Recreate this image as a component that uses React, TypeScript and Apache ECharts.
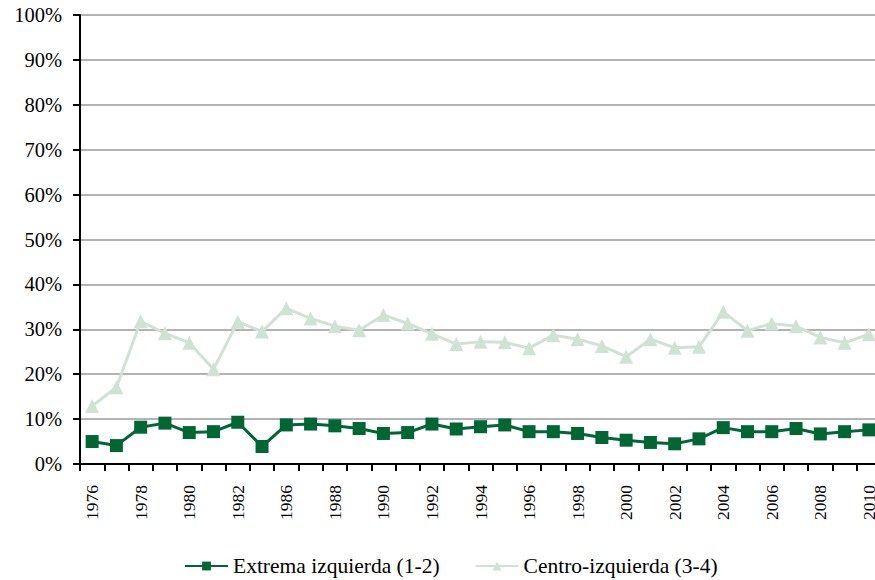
import React, { useEffect, useRef } from "react";
import * as echarts from "echarts";

const years = [
  "1976", "1977", "1978", "1979", "1980", "1981", "1982", "1984",
  "1986", "1987", "1988", "1989", "1990", "1991", "1992", "1993", "1994", "1995",
  "1996", "1997", "1998", "1999", "2000", "2001", "2002", "2003", "2004", "2005",
  "2006", "2007", "2008", "2009", "2010",
];

const extremaIzquierda = [
  5.0, 4.1, 8.2, 9.1, 7.0, 7.2, 9.3, 3.9,
  8.7, 8.9, 8.5, 7.9, 6.8, 7.0, 8.9, 7.8, 8.3, 8.7,
  7.2, 7.2, 6.8, 5.9, 5.3, 4.8, 4.5, 5.6, 8.1, 7.2,
  7.2, 7.9, 6.7, 7.2, 7.6,
];

const centroIzquierda = [
  12.9, 17.1, 31.8, 29.1, 27.0, 21.1, 31.7, 29.5,
  34.7, 32.4, 30.7, 29.8, 33.2, 31.3, 29.0, 26.7, 27.2, 27.1,
  25.8, 28.7, 27.8, 26.3, 23.9, 27.8, 25.9, 26.1, 33.9, 29.7,
  31.3, 30.7, 28.2, 27.0, 28.9,
];

const seriesNames = ["Extrema izquierda (1-2)", "Centro-izquierda (3-4)"];

const FONT = "Liberation Serif, Times New Roman, serif";

export default function App() {
  const ref = useRef<HTMLDivElement>(null);
  useEffect(() => {
    if (!ref.current) return;
    const chart = echarts.init(ref.current, undefined, { renderer: "svg" });
    chart.setOption({
      animation: false,
      backgroundColor: "#ffffff",
      textStyle: { fontFamily: FONT },
      grid: {
        left: 80,
        width: 801,
        top: 15,
        height: 449,
        containLabel: false,
        outerBoundsMode: "none",
      },
      legend: {
        top: 555,
        left: 184,
        padding: 0,
        itemWidth: 43,
        itemHeight: 11,
        itemGap: 35,
        textStyle: { fontFamily: FONT, fontSize: 21.5, color: "#000" },
        data: seriesNames,
      },
      xAxis: {
        type: "category",
        data: years,
        boundaryGap: true,
        axisLine: { lineStyle: { color: "#000", width: 2 } },
        axisTick: { show: true, length: 7, interval: 0, lineStyle: { color: "#000", width: 2 } },
        axisLabel: {
          interval: 1,
          rotate: 90,
          margin: 21,
          fontFamily: FONT,
          fontSize: 17.5,
          color: "#000",
        },
        splitLine: { show: false },
      },
      yAxis: {
        type: "value",
        min: 0,
        max: 100,
        interval: 10,
        axisLine: { show: true, lineStyle: { color: "#000", width: 2 } },
        axisTick: { show: true, length: 7, lineStyle: { color: "#000", width: 2 } },
        axisLabel: {
          formatter: "{value}%",
          margin: 18,
          fontFamily: FONT,
          fontSize: 20.5,
          color: "#000",
        },
        splitLine: { show: true, lineStyle: { color: "#b3b3b3", width: 2 } },
      },
      series: [
        {
          name: seriesNames[0],
          type: "line",
          data: extremaIzquierda,
          symbol: "rect",
          symbolSize: 13,
          lineStyle: { color: "#006633", width: 3 },
          itemStyle: { color: "#006633" },
        },
        {
          name: seriesNames[1],
          type: "line",
          data: centroIzquierda,
          symbol: "triangle",
          symbolSize: 14,
          lineStyle: { color: "#cfe2d6", width: 3 },
          itemStyle: { color: "#cfe2d6" },
        },
      ],
    });
    return () => chart.dispose();
  }, []);
  return (
    <div
      ref={ref}
      style={{ position: "fixed", left: 0, top: 0, width: 875, height: 580 }}
    />
  );
}
